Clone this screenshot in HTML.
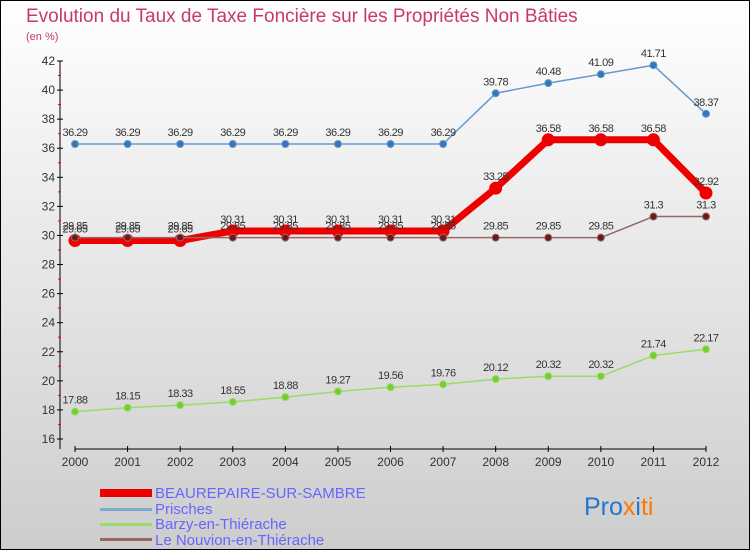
<!DOCTYPE html>
<html><head><meta charset="utf-8"><style>
body{margin:0}
#c{width:750px;height:550px;position:relative;overflow:hidden}
text{font-family:"Liberation Sans",sans-serif}
</style></head><body>
<div id="c">
<svg id="s" width="750" height="550" xmlns="http://www.w3.org/2000/svg">
<defs><linearGradient id="bg" x1="0" y1="0" x2="0" y2="1"><stop offset="0" stop-color="#ffffff"/><stop offset="1" stop-color="#cdcdcd"/></linearGradient></defs>
<rect x="0.5" y="0.5" width="749" height="549" fill="url(#bg)" stroke="#000"/>
<text x="26" y="22" font-size="19" fill="#c8386a">Evolution du Taux de Taxe Foncière sur les Propriétés Non Bâties</text>
<text x="26" y="40" font-size="11" fill="#c8386a">(en %)</text>
<g id="axes"></g><g id="series"></g>
<g>
<rect x="100" y="489" width="52" height="8" fill="#ee0000"/>
<text x="155" y="498" font-size="15" fill="#6666ff">BEAUREPAIRE-SUR-SAMBRE</text>
<rect x="100" y="508" width="52" height="3" fill="#7aaad0"/>
<text x="155" y="514" font-size="15" fill="#6666ff">Prisches</text>
<rect x="100" y="523" width="52" height="3" fill="#99dd66"/>
<text x="155" y="529" font-size="15" fill="#6666ff">Barzy-en-Thiérache</text>
<rect x="100" y="538" width="52" height="3" fill="#996666"/>
<text x="155" y="545" font-size="15" fill="#6666ff">Le Nouvion-en-Thiérache</text>
</g>
<g font-size="25">
<text x="584" y="515" fill="#2277cc">Pro<tspan fill="#ff7700">x</tspan><tspan fill="#2277cc">i</tspan><tspan fill="#ff7700">ti</tspan></text>
</g>
</svg></div>
<script>
const years=[2000,2001,2002,2003,2004,2005,2006,2007,2008,2009,2010,2011,2012];
const yTicks=[16,18,20,22,24,26,28,30,32,34,36,38,40,42];
const beaurepaire=[29.65,29.65,29.65,30.31,30.31,30.31,30.31,30.31,33.25,36.58,36.58,36.58,32.92];
const prisches=[36.29,36.29,36.29,36.29,36.29,36.29,36.29,36.29,39.78,40.48,41.09,41.71,38.37];
const barzy=[17.88,18.15,18.33,18.55,18.88,19.27,19.56,19.76,20.12,20.32,20.32,21.74,22.17];
const nouvion=[29.85,29.85,29.85,29.85,29.85,29.85,29.85,29.85,29.85,29.85,29.85,31.3,31.3];
const NS='http://www.w3.org/2000/svg';
const X=i=>75+i*(706-75)/(years.length-1);
const Y=v=>439-(v-16)*(378/26);
function mk(t,a,p){const e=document.createElementNS(NS,t);for(const k in a)e.setAttribute(k,a[k]);p.appendChild(e);return e;}
const ax=document.getElementById('axes');
let l=mk('line',{x1:60,y1:61,x2:60,y2:449,stroke:'#000'},ax);


l=mk('line',{x1:75,y1:449,x2:706,y2:449,stroke:'#000'},ax);


yTicks.forEach((v,k)=>{
 mk('line',{x1:57,y1:Y(v),x2:63,y2:Y(v),stroke:'#000'},ax);
 if(k<yTicks.length-1) mk('line',{x1:58,y1:Y(v+1),x2:61,y2:Y(v+1),stroke:'#e00'},ax);
 const t=mk('text',{x:55,y:Y(v)+4,'font-size':12,'text-anchor':'end',fill:'#333'},ax);t.textContent=v;
 
 
});
years.forEach((y,i)=>{
 mk('line',{x1:X(i),y1:446,x2:X(i),y2:452,stroke:'#000'},ax);
 const t=mk('text',{x:X(i),y:466,'font-size':12,'text-anchor':'middle',fill:'#333'},ax);t.textContent=y;
 
 
});
const sg=document.getElementById('series');
function draw(name,vals,color,w,r,dot,lab){
 const g=mk('g',{},sg);
 
 
 mk('polyline',{points:vals.map((v,i)=>X(i)+','+Y(v)).join(' '),fill:'none',stroke:color,'stroke-width':w,'stroke-linejoin':'round'},g);
 vals.forEach((v,i)=>{
  const c=mk('circle',{cx:X(i),cy:Y(v),r:r,fill:dot,stroke:color,'stroke-width':1},g);
  
  
  const t=mk('text',{x:X(i),y:Y(v)-8,'font-size':11,'text-anchor':'middle',fill:lab,'letter-spacing':'-0.5'},g);t.textContent=v;
  
  
 });
}
draw('barzy',barzy,'#99dd66',1.5,3.5,'#77cc33','#333');
draw('prisches',prisches,'#6699cc',1.5,3.5,'#3377bb','#333');
draw('beaurepaire',beaurepaire,'#ee0000',7,6,'#ee0000','#333');
draw('nouvion',nouvion,'#996666',1.5,3.5,'#6a1a1a','#333');
</script>
</body></html>
